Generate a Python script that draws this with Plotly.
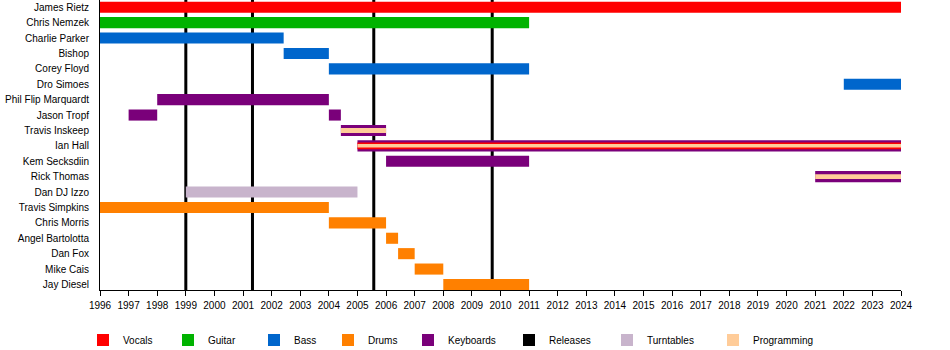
import plotly.graph_objects as go

# ---------------- data ----------------
members = ["James Rietz", "Chris Nemzek", "Charlie Parker", "Bishop", "Corey Floyd",
           "Dro Simoes", "Phil Flip Marquardt", "Jason Tropf", "Travis Inskeep",
           "Ian Hall", "Kem Secksdiin", "Rick Thomas", "Dan DJ Izzo", "Travis Simpkins",
           "Chris Morris", "Angel Bartolotta", "Dan Fox", "Mike Cais", "Jay Diesel"]

vocals_who = ["James Rietz", "Ian Hall"]
vocals_start = [1996, 2005]
vocals_end = [2024, 2024]

guitar_who = ["Chris Nemzek"]
guitar_start = [1996]
guitar_end = [2011]

bass_who = ["Charlie Parker", "Bishop", "Corey Floyd", "Dro Simoes"]
bass_start = [1996, 2002.42, 2004, 2022]
bass_end = [2002.42, 2004, 2011, 2024]

drums_who = ["Travis Simpkins", "Chris Morris", "Angel Bartolotta", "Dan Fox", "Mike Cais", "Jay Diesel"]
drums_start = [1996, 2004, 2006, 2006.42, 2007, 2008]
drums_end = [2004, 2006, 2006.42, 2007, 2008, 2011]

keys_who = ["Phil Flip Marquardt", "Jason Tropf", "Jason Tropf", "Travis Inskeep",
            "Ian Hall", "Kem Secksdiin", "Rick Thomas"]
keys_start = [1998, 1997, 2004, 2004.42, 2005, 2006, 2021]
keys_end = [2004, 1998, 2004.42, 2006, 2024, 2011, 2024]

turntables_who = ["Dan DJ Izzo"]
turntables_start = [1999]
turntables_end = [2005]

programming_who = ["Travis Inskeep", "Ian Hall", "Rick Thomas"]
programming_start = [2004.42, 2005, 2021]
programming_end = [2006, 2024, 2024]

releases = [1999.0, 2001.33, 2005.57, 2009.71]

years = list(range(1996, 2025))

legend_order = ["Vocals", "Guitar", "Bass", "Drums", "Keyboards", "Releases",
                "Turntables", "Programming"]

# ---------------- style ----------------
COL = {"Vocals": "#FF0000", "Guitar": "#00B300", "Bass": "#0066CC", "Drums": "#FF8000",
       "Keyboards": "#7A007A", "Releases": "#000000", "Turntables": "#C8B4CC",
       "Programming": "#FFCC99"}
LEGEND_X_PX = [83, 168, 254, 328, 408, 509, 607, 713]
LEGEND_Y_PX = 340
W, H = 950, 350
FULL = 0.72
MID = 0.45
THIN_PROG = 0.32
THINNEST = 0.23
Y_TOP = -0.47
Y_BOT = 18.36
FONT = "Liberation Sans, Arial, sans-serif"

row = {m: i for i, m in enumerate(members)}
legend_id = {name: ("legend" if i == 0 else f"legend{i + 1}") for i, name in enumerate(legend_order)}

fig = go.Figure()


def add_bars(name, who, start, end, widths):
    fig.add_trace(go.Bar(
        name=name, orientation="h",
        y=[row[w] for w in who],
        base=start,
        x=[e - s for s, e in zip(start, end)],
        width=widths,
        marker=dict(color=COL[name], line=dict(width=0)),
        legend=legend_id[name], hoverinfo="skip",
    ))


# releases (behind the bars) as thin full-height bars
rel_w = 3 / (800 / 28)
fig.add_trace(go.Bar(
    name="Releases", orientation="h",
    y=[(Y_TOP + Y_BOT) / 2] * len(releases),
    base=[r - rel_w / 2 for r in releases],
    x=[rel_w] * len(releases),
    width=[Y_BOT - Y_TOP] * len(releases),
    marker=dict(color=COL["Releases"], line=dict(width=0)),
    legend=legend_id["Releases"], hoverinfo="skip",
))

add_bars("Guitar", guitar_who, guitar_start, guitar_end, [FULL])
add_bars("Bass", bass_who, bass_start, bass_end, [FULL] * len(bass_who))
add_bars("Drums", drums_who, drums_start, drums_end, [FULL] * len(drums_who))
add_bars("Keyboards", keys_who, keys_start, keys_end, [FULL] * len(keys_who))
add_bars("Turntables", turntables_who, turntables_start, turntables_end, [FULL])
add_bars("Vocals", vocals_who, vocals_start, vocals_end,
         [FULL if w == "James Rietz" else MID for w in vocals_who])
add_bars("Programming", programming_who, programming_start, programming_end,
         [THINNEST if w == "Ian Hall" else THIN_PROG for w in programming_who])

legends = {}
for name, px in zip(legend_order, LEGEND_X_PX):
    legends[legend_id[name]] = dict(
        orientation="h", xref="container", yref="container",
        x=px / W, xanchor="left", y=1 - LEGEND_Y_PX / H, yanchor="middle",
        font=dict(size=10), itemclick=False, bgcolor="rgba(0,0,0,0)",
    )

fig.update_layout(
    width=W, height=H,
    margin=dict(l=100, r=49, t=0, b=60),
    barmode="overlay",
    plot_bgcolor="white", paper_bgcolor="white",
    font=dict(family=FONT, size=10, color="#000000"),
    showlegend=True,
    xaxis=dict(range=[1996, 2024], tickvals=years, ticktext=[str(y) for y in years],
               ticks="outside", ticklen=5, tickcolor="#000000", tickwidth=1,
               showline=True, linecolor="#000000", linewidth=1,
               showgrid=False, zeroline=False, tickfont=dict(size=10),
               ticklabelstandoff=1),
    yaxis=dict(range=[Y_BOT, Y_TOP], tickvals=list(range(len(members))), ticktext=members,
               ticks="", showline=True, linecolor="#000000", linewidth=1,
               showgrid=False, zeroline=False, ticklabelstandoff=8,
               tickfont=dict(size=10)),
    **legends,
)

fig.write_html("out.html")
